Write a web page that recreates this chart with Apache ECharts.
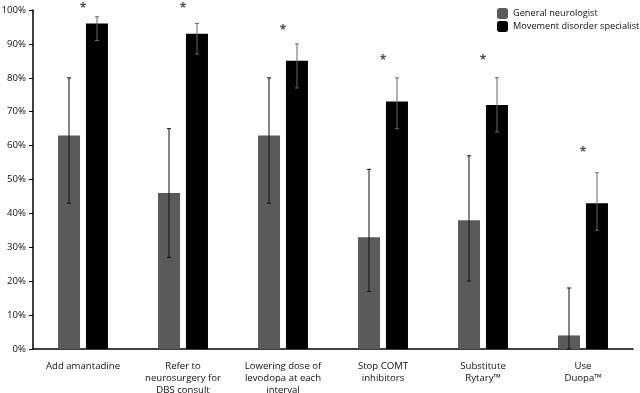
<!DOCTYPE html>
<html>
<head>
<meta charset="utf-8">
<script src="https://cdn.jsdelivr.net/npm/echarts@6/dist/echarts.min.js"></script>
<style>
  html, body { margin: 0; padding: 0; background: #fff; }
  #chart { width: 640px; height: 393px; }
</style>
</head>
<body>
<div id="chart"></div>
<script>
const categories = [
  'Add amantadine',
  'Refer to\nneurosurgery for\nDBS consult',
  'Lowering dose of\nlevodopa at each\ninterval',
  'Stop COMT\ninhibitors',
  'Substitute\nRytary™',
  'Use\nDuopa™'
];
const general = [63, 46, 63, 33, 38, 4];
const generalLow = [43, 27, 43, 17, 20, 0];
const generalHigh = [80, 65, 80, 53, 57, 18];
const specialist = [96, 93, 85, 73, 72, 43];
const specialistLow = [91, 87, 77, 65, 64, 35];
const specialistHigh = [98, 96, 90, 80, 80, 52];
const starLevel = [100.4, 100.4, 94, 85, 85, 58];

const chart = echarts.init(document.getElementById('chart'));

function errorSeries(low, high, side, color) {
  return {
    type: 'custom',
    z: 10,
    data: low.map((v, i) => [i, v, high[i]]),
    renderItem: function (params, api) {
      const band = api.size([1, 0])[0];
      const p1 = api.coord([api.value(0), api.value(1)]);
      const p2 = api.coord([api.value(0), api.value(2)]);
      const x = p1[0] + side * band * 0.14;
      const cap = 2;
      const style = { stroke: color, lineWidth: 1 };
      return {
        type: 'group',
        children: [
          { type: 'line', shape: { x1: x, y1: p1[1], x2: x, y2: p2[1] }, style: style },
          { type: 'line', shape: { x1: x - cap, y1: p2[1], x2: x + cap, y2: p2[1] }, style: style },
          { type: 'line', shape: { x1: x - cap, y1: p1[1], x2: x + cap, y2: p1[1] }, style: style }
        ]
      };
    }
  };
}

const option = {
  animation: false,
  textStyle: { fontFamily: 'Open Sans' },
  grid: { left: 33, right: 7, top: 10, bottom: 44, outerBoundsMode: 'none' },
  legend: {
    orient: 'vertical',
    left: 492,
    top: 3,
    itemWidth: 11,
    itemHeight: 11,
    itemGap: 2,
    textStyle: { fontSize: 9.2, color: '#111', fontFamily: 'Open Sans' },
    data: ['General neurologist', 'Movement disorder specialist']
  },
  xAxis: {
    type: 'category',
    data: categories,
    axisLine: { lineStyle: { color: '#000', width: 1.5 } },
    axisTick: { show: false },
    axisLabel: { color: '#111', fontSize: 9.6, lineHeight: 12, margin: 11, interval: 0 }
  },
  yAxis: {
    type: 'value',
    min: 0,
    max: 100,
    interval: 10,
    splitLine: { show: false },
    axisLine: { show: true, lineStyle: { color: '#000', width: 1.5 } },
    axisTick: { show: true, length: 4, lineStyle: { color: '#000' } },
    axisLabel: { color: '#111', fontSize: 9.6, margin: 7, formatter: '{value}%' }
  },
  series: [
    {
      name: 'General neurologist',
      type: 'bar',
      data: general,
      barWidth: 22,
      barGap: '27%',
      itemStyle: { color: '#5a5a5a' }
    },
    {
      name: 'Movement disorder specialist',
      type: 'bar',
      data: specialist,
      barWidth: 22,
      itemStyle: { color: '#000' }
    },
    errorSeries(generalLow, generalHigh, -1, '#111'),
    errorSeries(specialistLow, specialistHigh, 1, '#666'),
    {
      type: 'scatter',
      symbolSize: 0,
      clip: false,
      data: starLevel.map((v, i) => [i, v]),
      label: {
        show: true,
        formatter: '*',
        position: 'inside',
        fontSize: 12,
        fontWeight: 'bold',
        color: '#222'
      },
      z: 11
    }
  ]
};

chart.setOption(option);
</script>
</body>
</html>
